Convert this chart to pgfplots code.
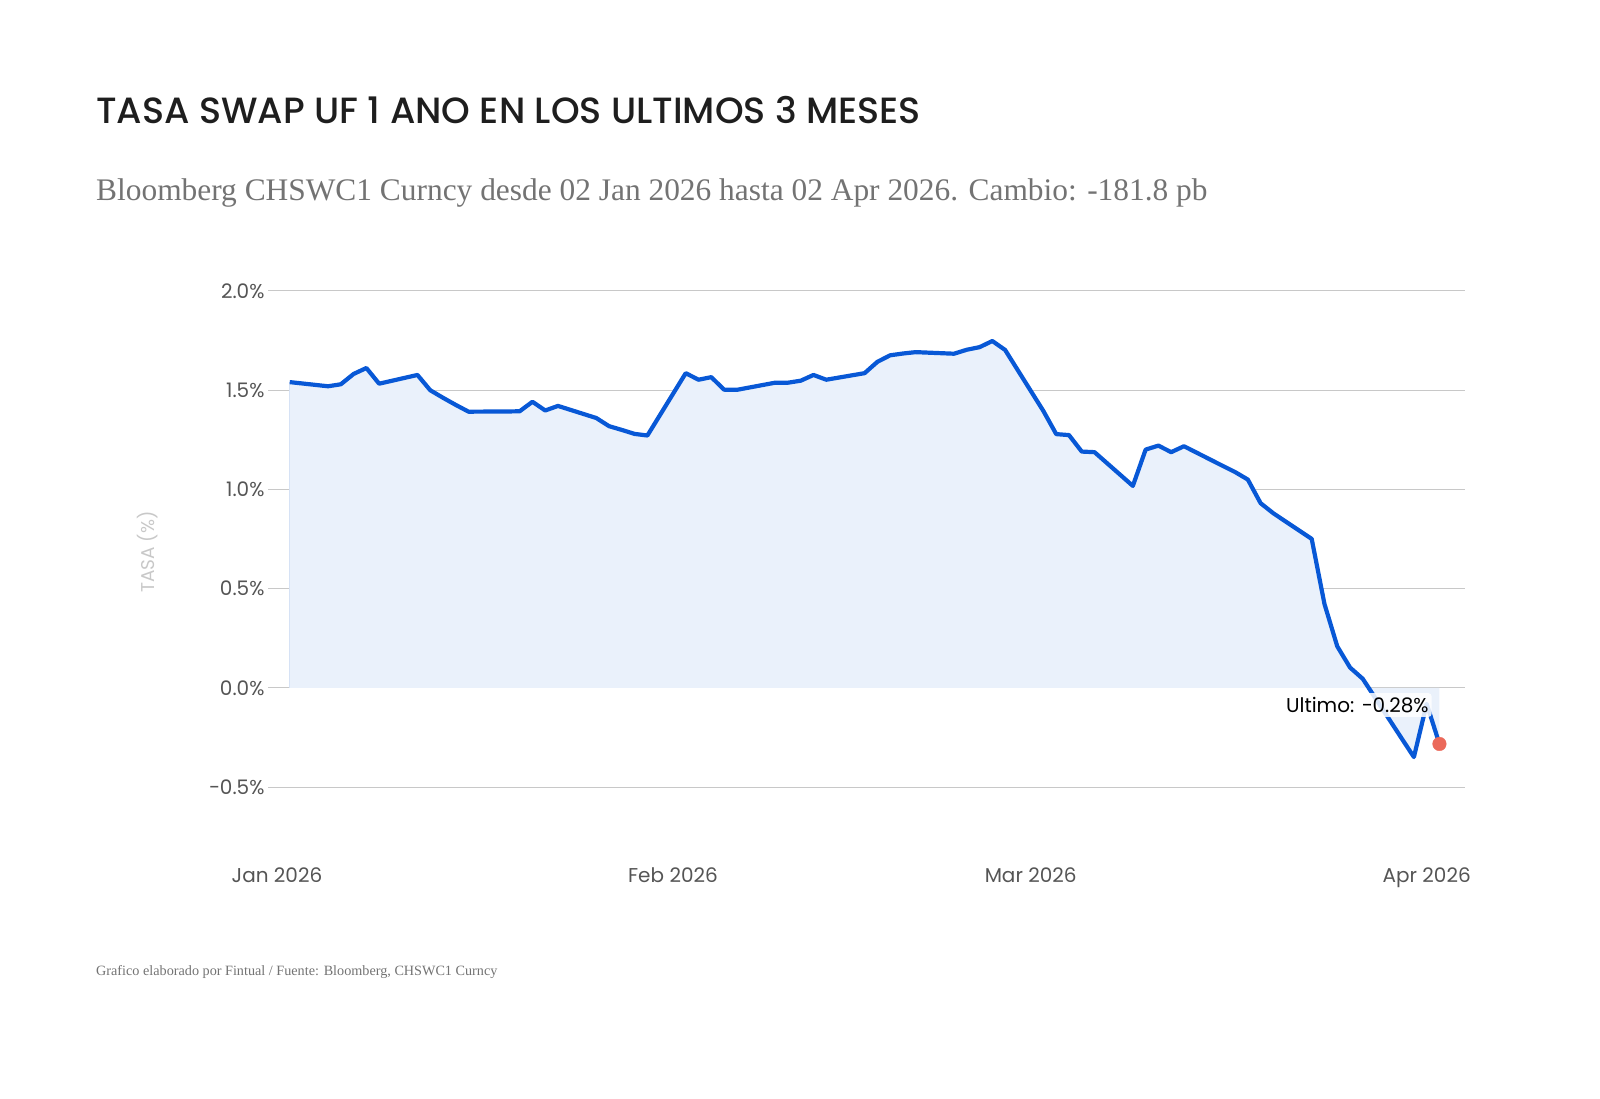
\documentclass[border=0pt]{standalone}
\usepackage{pgfplots}
\pgfplotsset{compat=1.18}
\usepgfplotslibrary{fillbetween}
\usepackage{fontspec}
\setmainfont{Liberation Serif}
\newfontfamily\poppins{Poppins}
\newfontfamily\poppinsmed{Poppins Medium}

\definecolor{linecol}{RGB}{8,88,214}
\definecolor{fillcol}{RGB}{234,241,251}
\definecolor{filledge}{RGB}{214,226,245}
\definecolor{gridcol}{RGB}{200,200,200}
\definecolor{tickcol}{RGB}{85,85,85}
\definecolor{subcol}{RGB}{115,115,115}
\definecolor{labcol}{RGB}{200,200,200}
\definecolor{dotcol}{RGB}{235,105,90}

% x = days since 1 Jan 2026, y = rate in %
\pgfplotstableread{
x v
1 1.541
4 1.520
5 1.530
6 1.582
7 1.612
8 1.533
11 1.577
12 1.500
13 1.462
14 1.426
15 1.392
18 1.393
19 1.394
20 1.442
21 1.398
22 1.421
25 1.360
26 1.319
27 1.300
28 1.280
29 1.272
32 1.586
33 1.553
34 1.566
35 1.503
36 1.502
39 1.538
40 1.538
41 1.548
42 1.577
43 1.553
46 1.586
47 1.643
48 1.676
49 1.685
50 1.692
53 1.684
54 1.704
55 1.717
56 1.748
57 1.703
60 1.395
61 1.279
62 1.274
63 1.191
64 1.188
67 1.018
68 1.201
69 1.221
70 1.188
71 1.218
74 1.120
75 1.088
76 1.050
77 0.931
78 0.880
81 0.751
82 0.423
83 0.210
84 0.103
85 0.046
88 -0.250
89 -0.348
90 -0.080
91 -0.282
}\swap

\begin{document}
\begin{tikzpicture}

\node[anchor=base west, inner sep=0, text={rgb,255:red,30;green,30;blue,30},
  font=\poppinsmed\fontsize{36.5}{36.5}\selectfont] at (96pt,974pt)
  {TASA SWAP UF 1 ANO EN LOS ULTIMOS 3 MESES};
\node[anchor=base west, inner sep=0, text=subcol,
  font=\fontsize{31.4}{31.4}\selectfont] at (96pt,897pt)
  {Bloomberg CHSWC1 Curncy desde 02 Jan 2026 hasta 02 Apr 2026. Cambio: -181.8 pb};
\node[anchor=base west, inner sep=0, text=subcol,
  font=\fontsize{14.2}{14.2}\selectfont] at (96pt,123pt)
  {Grafico elaborado por Fintual / Fuente: Bloomberg, CHSWC1 Curncy};

\begin{axis}[
  at={(268pt,241.3pt)}, anchor=south west,
  scale only axis, width=1197pt, height=565.7pt,
  xmin=-0.7, xmax=93, ymin=-0.85, ymax=2.0,
  clip=false,
  axis line style={draw=none},
  tick style={draw=none},
  ymajorgrids,
  grid style={gridcol, line width=1pt},
  xtick={0,31,59,90},
  xticklabels={Jan 2026,Feb 2026,Mar 2026,Apr 2026},
  ytick={-0.5,0,0.5,1,1.5,2},
  yticklabels={−0.5\%,0.0\%,0.5\%,1.0\%,1.5\%,2.0\%},
  ticklabel style={font=\poppins\fontsize{20}{20}\selectfont, text=tickcol},
  xticklabel style={yshift=-7pt, text height=15pt, text depth=4pt},
]

\addplot[draw=none, name path=rate] table[x=x,y=v] {\swap};
\path[name path=zero] (axis cs:1,0) -- (axis cs:91,0);
\addplot[fillcol] fill between[of=rate and zero];
\draw[filledge, line width=1pt] (axis cs:1,0) -- (axis cs:1,1.541);

\addplot[linecol, line width=4.2pt, line join=round] table[x=x,y=v] {\swap};

\node[anchor=east, fill=white, fill opacity=0.85, text opacity=1,
  rounded corners=3pt, inner xsep=3pt, inner ysep=4pt,
  font=\poppins\fontsize{20}{20}\selectfont] at (axis cs:90.4,-0.086)
  {Ultimo: −0.28\%};

\addplot[only marks, mark=*, mark size=6.8pt, color=dotcol] coordinates {(91,-0.282)};

\node[rotate=90, text=labcol, font=\poppins\fontsize{18.5}{18.5}\selectfont]
  at (axis cs:-10.1,0.685) {TASA (\%)};
\end{axis}

\path (0pt,0pt) rectangle (1600pt,1098pt);
\end{tikzpicture}
\end{document}
